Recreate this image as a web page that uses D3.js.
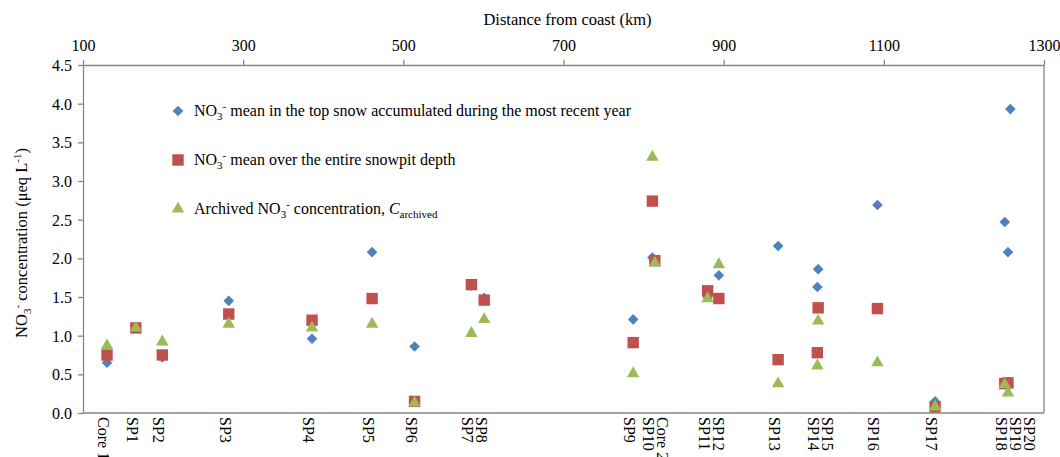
<!DOCTYPE html>
<html>
<head>
<meta charset="utf-8">
<script src="https://cdn.jsdelivr.net/npm/d3@7"></script>
<style>
  body { margin: 0; background: #fff; }
  svg { display: block; font-family: "Liberation Serif", "Times New Roman", serif; }
</style>
</head>
<body>
<svg id="chart" width="1060" height="457"></svg>
<script>
// site names and distance from coast (km)
const sites = ["Core 1", "SP1", "SP2", "SP3", "SP4", "SP5", "SP6", "SP7", "SP8", "SP9", "SP10", "Core 2",
    "SP11", "SP12", "SP13", "SP14", "SP15", "SP16", "SP17", "SP18", "SP19", "SP20"];
const distanceKm = [130, 166, 199, 282, 386, 461, 514, 585, 601, 787, 811, 814,
    880, 894, 968, 1017, 1018, 1092, 1164, 1251, 1255, 1258];

// NO3- (ueq/L)
const topSnowMean = [0.65, 1.10, 0.72, 1.45, 0.96, 2.08, 0.86, 1.65, 1.49, 1.21, 2.01, null,
    1.50, 1.78, 2.16, 1.63, 1.86, 2.69, 0.15, 2.47, 2.08, 3.93];
const pitMean = [0.75, 1.10, 0.75, 1.28, 1.20, 1.48, 0.15, 1.66, 1.46, 0.91, 2.74, 1.97,
    1.58, 1.48, 0.69, 0.78, 1.36, 1.35, 0.08, 0.38, 0.39, null];
const archived = [0.87, 1.10, 0.92, 1.15, 1.10, 1.15, 0.13, 1.03, 1.21, 0.51, 3.31, 1.94,
    1.48, 1.92, 0.38, 0.61, 1.19, 0.65, 0.08, 0.37, 0.26, null];

const xTicks = [100, 300, 500, 700, 900, 1100, 1300];
const yTicks = [0, 0.5, 1.0, 1.5, 2.0, 2.5, 3.0, 3.5, 4.0, 4.5];

const svg = d3.select("#chart");
const plotLeft = 83, plotRight = 1044, plotTop = 65, plotBottom = 413;
const axisColor = "#868686";

const x = d3.scaleLinear().domain([100, 1300]).range([plotLeft, plotRight]);
const y = d3.scaleLinear().domain([0, 4.5]).range([plotBottom, plotTop]);

// frame lines on right and bottom
svg.append("line").attr("x1", plotRight).attr("x2", plotRight).attr("y1", plotTop).attr("y2", plotBottom)
    .attr("stroke", axisColor).attr("stroke-width", 1.3);
svg.append("line").attr("x1", plotLeft).attr("x2", plotRight).attr("y1", plotBottom).attr("y2", plotBottom)
    .attr("stroke", axisColor).attr("stroke-width", 1.3);

// top axis (distance)
const gx = svg.append("g").attr("transform", `translate(0,${plotTop})`)
    .call(d3.axisTop(x).tickValues(xTicks).tickFormat(d3.format("d")).tickSize(5).tickSizeOuter(0).tickPadding(9));
// left axis
const gy = svg.append("g").attr("transform", `translate(${plotLeft},0)`)
    .call(d3.axisLeft(y).tickValues(yTicks).tickFormat(d3.format(".1f")).tickSize(5).tickSizeOuter(0).tickPadding(6));

[gx, gy].forEach(g => {
    g.selectAll("path, line").attr("stroke", axisColor).attr("stroke-width", 1.3);
    g.selectAll("text").attr("font-size", 16).attr("fill", "#000").attr("font-family", "Liberation Serif");
});
gy.selectAll("text").attr("dy", "0.35em");

// axis titles
svg.append("text").attr("x", (plotLeft + plotRight) / 2 + 4).attr("y", 25).attr("text-anchor", "middle")
    .attr("font-size", 16.5).text("Distance from coast (km)");

const yt = svg.append("text").attr("transform", `translate(27,${(plotTop + plotBottom) / 2 + 4}) rotate(-90)`)
    .attr("text-anchor", "middle").attr("font-size", 16.5);
yt.append("tspan").text("NO");
yt.append("tspan").attr("font-size", 11).attr("dy", 4).text("3");
yt.append("tspan").attr("font-size", 11).attr("dy", -10).text("-");
yt.append("tspan").attr("dy", 6).text(" concentration (μeq L");
yt.append("tspan").attr("font-size", 11).attr("dy", -6).text("-1");
yt.append("tspan").attr("dy", 6).text(")");

// site labels along the bottom, nudged right when they collide
const labelX = [];
const order = d3.range(sites.length).sort((a, b) => distanceKm[a] - distanceKm[b]);
let lastX = -Infinity;
order.forEach(i => {
    let px = x(distanceKm[i]);
    if (px - lastX < 14) px = lastX + 14;
    labelX[i] = px;
    lastX = px;
});
svg.append("g").selectAll("text").data(sites).enter().append("text")
    .attr("transform", (d, i) => `translate(${labelX[i] - 9},${plotBottom + 4}) rotate(90)`)
    .attr("font-size", 16)
    .text(d => d);

// series
const blue = "#4F81BD", red = "#C0504D", green = "#9BBB59";
const diamond = d3.symbol().type(d3.symbolDiamond2).size(72);
const square = d3.symbol().type(d3.symbolSquare).size(130);
const triangle = d3.symbol().type(d3.symbolTriangle).size(68);

function drawSeries(values, sym, color) {
    const pts = values.map((v, i) => ({ km: distanceKm[i], v: v })).filter(d => d.v !== null);
    svg.append("g").selectAll("path").data(pts).enter().append("path")
        .attr("d", sym)
        .attr("transform", d => `translate(${x(d.km)},${y(d.v)})`)
        .attr("fill", color);
}
drawSeries(topSnowMean, diamond, blue);
drawSeries(pitMean, square, red);
drawSeries(archived, triangle, green);

// legend
const legend = [
    { sym: diamond, color: blue, parts: [["NO", 16, 0], ["3", 11, 4], ["-", 11, -10], [" mean in the top snow accumulated during the most recent year", 16, 6]] },
    { sym: square, color: red, parts: [["NO", 16, 0], ["3", 11, 4], ["-", 11, -10], [" mean over the entire snowpit depth", 16, 6]] },
    { sym: triangle, color: green, parts: [["Archived NO", 16, 0], ["3", 11, 4], ["-", 11, -10], [" concentration, ", 16, 6], ["C", 16, 0, true], ["archived", 11, 4]] }
];
legend.forEach((item, k) => {
    const cy = 111 + k * 49;
    svg.append("path").attr("d", item.sym).attr("transform", `translate(178,${cy})`).attr("fill", item.color);
    const t = svg.append("text").attr("x", 194).attr("y", cy + 5).attr("font-size", 16);
    item.parts.forEach(p => {
        const s = t.append("tspan").attr("font-size", p[1]).attr("dy", p[2]).text(p[0]);
        if (p[3]) s.attr("font-style", "italic");
    });
});
</script>
</body>
</html>
